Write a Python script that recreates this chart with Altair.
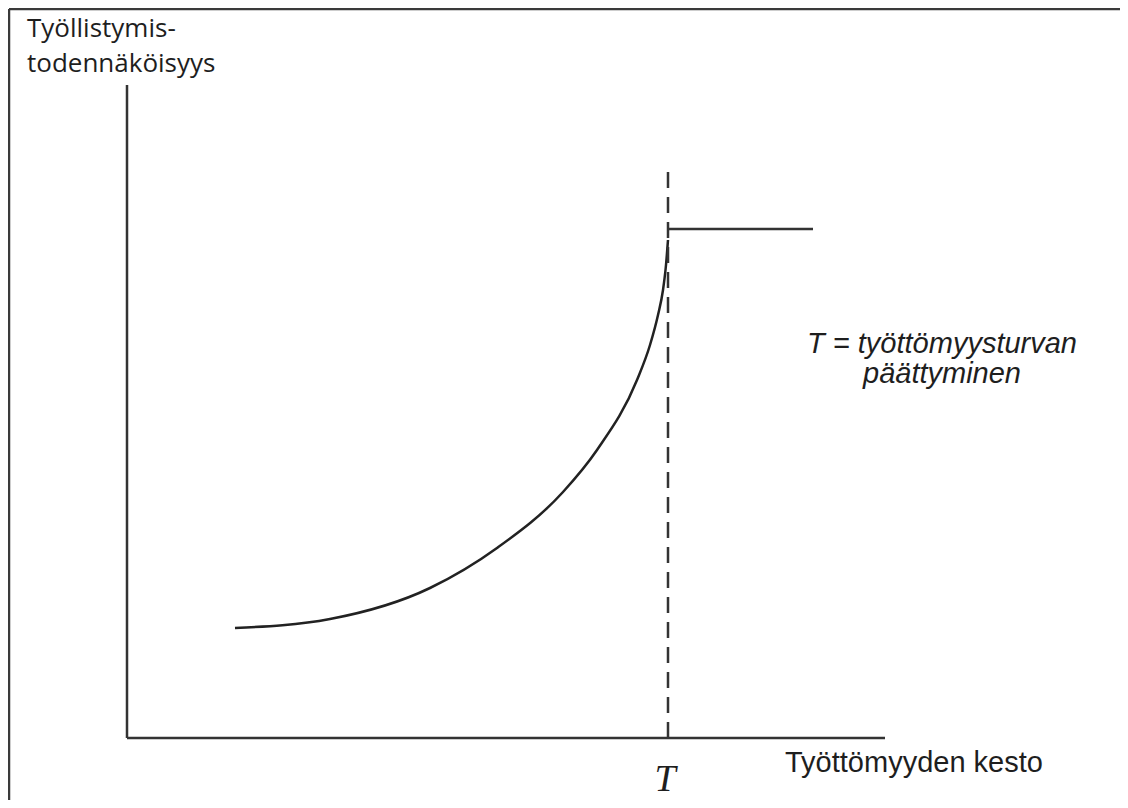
import altair as alt
import pandas as pd

# Curve (employment probability vs unemployment duration), abstract units
curve_x = [10.8, 20.3, 30.3, 37.0, 43.6, 47.0, 51.0, 52.3, 53.1, 53.6, 53.9, 54.1]
curve_y = [11.0, 11.9, 15.0, 19.0, 24.6, 28.8, 35.8, 39.3, 42.3, 44.8, 47.3, 49.8]

T_x = 54.1            # end of unemployment benefit
after_y = 50.9        # level after T
after_end = 68.6
dash_top = 57.5
x_axis_end = 75.8
y_axis_top = 65.3

x_dom = [-11.9, 99.3]
y_dom = [-6.2, 73.0]

labels = ["Työllistymis-", "todennäköisyys", "T = työttömyysturvan", "päättyminen",
          "Työttömyyden kesto", "T"]
label_x = [-10.0, -10.0, 81.5, 81.5, 65.8, 53.8]
label_y = [70.1, 66.6, 38.5, 35.5, -3.4, -6.12]

xs = alt.Scale(domain=x_dom, nice=False, zero=False)
ys = alt.Scale(domain=y_dom, nice=False, zero=False)

def X(f="x"):
    return alt.X(f"{f}:Q", scale=xs, axis=None)

def Y(f="y"):
    return alt.Y(f"{f}:Q", scale=ys, axis=None)

# frame (top and left)
frame = pd.DataFrame({"x": [-11.8, -11.8], "x2": [-11.8, 99.3],
                      "y": [-6.2, 72.9], "y2": [72.9, 72.9]})
frame_l = alt.Chart(frame).mark_rule(color="#3a3a3a", strokeWidth=2.5).encode(
    x=X(), x2="x2:Q", y=Y(), y2="y2:Q")

axes = pd.DataFrame({"x": [0, 0], "x2": [0, x_axis_end], "y": [0, 0], "y2": [y_axis_top, 0]})
axes_l = alt.Chart(axes).mark_rule(color="#333333", strokeWidth=2.5).encode(
    x=X(), x2="x2:Q", y=Y(), y2="y2:Q")

cdf = pd.DataFrame({"x": curve_x, "y": curve_y})
curve_l = alt.Chart(cdf).mark_line(color="#222222", strokeWidth=2.5,
                                   interpolate="monotone").encode(x=X(), y=Y())

dash = pd.DataFrame({"x": [T_x], "y": [0], "y2": [dash_top]})
dash_l = alt.Chart(dash).mark_rule(color="#333333", strokeWidth=2.5,
                                   strokeDash=[16, 9]).encode(x=X(), y=Y(), y2="y2:Q")

flat = pd.DataFrame({"x": [T_x], "x2": [after_end], "y": [after_y]})
flat_l = alt.Chart(flat).mark_rule(color="#333333", strokeWidth=2.5).encode(
    x=X(), x2="x2:Q", y=Y())

tdf = pd.DataFrame({"label": labels, "x": label_x, "y": label_y})

def text_layer(idx, baseline="alphabetic", **kw):
    return alt.Chart(tdf.iloc[idx]).mark_text(baseline=baseline, color="#1e1e1e", **kw).encode(
        x=X(), y=Y(), text="label:N")

t_ylab = text_layer([0, 1], align="left", font="Open Sans", fontSize=26)
t_note = text_layer([2, 3], align="center", font="Liberation Sans", fontSize=29, fontStyle="italic")
t_xlab = text_layer([4], align="left", font="Liberation Sans", fontSize=29)
t_T = text_layer([5], baseline="bottom", align="center", font="Liberation Serif",
                 fontSize=38, fontStyle="italic")

chart = alt.layer(frame_l, axes_l, curve_l, dash_l, flat_l, t_ylab, t_note, t_xlab, t_T).properties(
    width=1112, height=792, padding=0, autosize=alt.AutoSizeParams(type="none")
).configure_view(stroke=None)

chart.save("out.html", embed_options={"renderer": "svg", "actions": False})
